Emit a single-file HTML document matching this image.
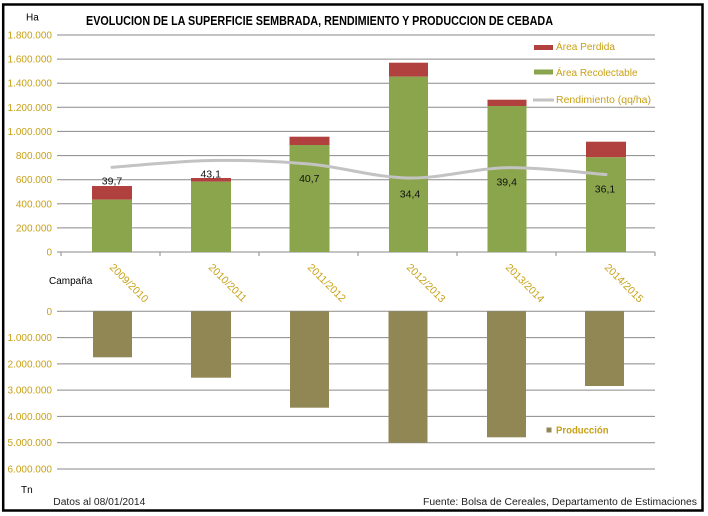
<!DOCTYPE html>
<html>
<head>
<meta charset="utf-8">
<style>
html,body{margin:0;padding:0;background:#fff;}
svg{display:block;}
text{font-family:"Liberation Sans",sans-serif;}
</style>
</head>
<body>
<svg width="708" height="516" viewBox="0 0 708 516" xmlns="http://www.w3.org/2000/svg">
<rect x="0" y="0" width="708" height="516" fill="#fff"/>
<rect x="3.2" y="4.5" width="699.3" height="506" fill="none" stroke="#000" stroke-width="2.5"/>

<text x="86" y="25" font-size="12.5" font-weight="bold" fill="#000" textLength="467" lengthAdjust="spacingAndGlyphs">EVOLUCION DE LA SUPERFICIE SEMBRADA, RENDIMIENTO Y PRODUCCION DE CEBADA</text>
<text x="26" y="20.7" font-size="10" fill="#000">Ha</text>

<g stroke="#8a8a8a" stroke-width="1">
<line x1="61" y1="35" x2="655" y2="35"/>
<line x1="61" y1="59.1" x2="655" y2="59.1"/>
<line x1="61" y1="83.2" x2="655" y2="83.2"/>
<line x1="61" y1="107.3" x2="655" y2="107.3"/>
<line x1="61" y1="131.4" x2="655" y2="131.4"/>
<line x1="61" y1="155.6" x2="655" y2="155.6"/>
<line x1="61" y1="179.7" x2="655" y2="179.7"/>
<line x1="61" y1="203.8" x2="655" y2="203.8"/>
<line x1="61" y1="227.9" x2="655" y2="227.9"/>
<line x1="61" y1="252" x2="655" y2="252"/>
<line x1="57" y1="35" x2="61" y2="35"/>
<line x1="57" y1="59.1" x2="61" y2="59.1"/>
<line x1="57" y1="83.2" x2="61" y2="83.2"/>
<line x1="57" y1="107.3" x2="61" y2="107.3"/>
<line x1="57" y1="131.4" x2="61" y2="131.4"/>
<line x1="57" y1="155.6" x2="61" y2="155.6"/>
<line x1="57" y1="179.7" x2="61" y2="179.7"/>
<line x1="57" y1="203.8" x2="61" y2="203.8"/>
<line x1="57" y1="227.9" x2="61" y2="227.9"/>
<line x1="57" y1="252" x2="61" y2="252"/>
<line x1="61" y1="252" x2="61" y2="256"/>
<line x1="160" y1="252" x2="160" y2="256"/>
<line x1="259" y1="252" x2="259" y2="256"/>
<line x1="358" y1="252" x2="358" y2="256"/>
<line x1="457" y1="252" x2="457" y2="256"/>
<line x1="556" y1="252" x2="556" y2="256"/>
<line x1="655" y1="252" x2="655" y2="256"/>
</g>

<g font-size="10" fill="#c8a015" text-anchor="end">
<text x="52" y="38.5">1.800.000</text>
<text x="52" y="62.6">1.600.000</text>
<text x="52" y="86.7">1.400.000</text>
<text x="52" y="110.8">1.200.000</text>
<text x="52" y="134.9">1.000.000</text>
<text x="52" y="159.1">800.000</text>
<text x="52" y="183.2">600.000</text>
<text x="52" y="207.3">400.000</text>
<text x="52" y="231.4">200.000</text>
<text x="52" y="255.5">0</text>
</g>

<g>
<rect x="92" y="186" width="40" height="13.7" fill="#b0413e"/>
<rect x="92" y="199.7" width="40" height="52.3" fill="#8aa54b"/>
<rect x="191" y="178" width="40" height="3.7" fill="#b0413e"/>
<rect x="191" y="181.7" width="40" height="70.3" fill="#8aa54b"/>
<rect x="289.5" y="136.7" width="40" height="8.3" fill="#b0413e"/>
<rect x="289.5" y="145" width="40" height="107" fill="#8aa54b"/>
<rect x="389" y="62.7" width="39" height="14" fill="#b0413e"/>
<rect x="389" y="76.7" width="39" height="175.3" fill="#8aa54b"/>
<rect x="487.5" y="99.7" width="39" height="6.3" fill="#b0413e"/>
<rect x="487.5" y="106" width="39" height="146" fill="#8aa54b"/>
<rect x="586" y="141.7" width="40" height="15.6" fill="#b0413e"/>
<rect x="586" y="157.3" width="40" height="94.7" fill="#8aa54b"/>
</g>

<path d="M112,167.3 C128.5,166.2 178.2,161.05 211,160.5 C243.8,159.95 276.2,161.1 309,164 C341.8,166.9 375,177.4 408,178 C441,178.6 474,168.3 507,167.7 C540,167.1 589.5,173.4 606,174.5" fill="none" stroke="#c3c3c3" stroke-width="3" stroke-linecap="round"/>

<g font-size="10.5" fill="#111" text-anchor="middle">
<text x="112" y="184.5">39,7</text>
<text x="210.7" y="177.5">43,1</text>
<text x="309.3" y="182">40,7</text>
<text x="410" y="197.5">34,4</text>
<text x="506.7" y="185.5">39,4</text>
<text x="605" y="192.5">36,1</text>
</g>

<rect x="534" y="45" width="19" height="5" fill="#b0413e"/>
<text x="556" y="50" font-size="10" fill="#c8a015" textLength="59" lengthAdjust="spacingAndGlyphs">Área Perdida</text>
<rect x="534" y="69.5" width="19" height="5" fill="#8aa54b"/>
<text x="556" y="76" font-size="10" fill="#c8a015" textLength="81.5" lengthAdjust="spacingAndGlyphs">Área Recolectable</text>
<line x1="533" y1="100" x2="554" y2="100" stroke="#c3c3c3" stroke-width="3"/>
<text x="556" y="103" font-size="10" fill="#c8a015" textLength="95" lengthAdjust="spacingAndGlyphs">Rendimiento (qq/ha)</text>

<g font-size="10.5" fill="#c8a015">
<text transform="translate(109,268) rotate(45)">2009/2010</text>
<text transform="translate(208,268) rotate(45)">2010/2011</text>
<text transform="translate(307,268) rotate(45)">2011/2012</text>
<text transform="translate(406,268) rotate(45)">2012/2013</text>
<text transform="translate(505,268) rotate(45)">2013/2014</text>
<text transform="translate(604,268) rotate(45)">2014/2015</text>
</g>
<text x="49" y="284" font-size="10" fill="#000">Campaña</text>

<g stroke="#8a8a8a" stroke-width="1">
<line x1="61" y1="311.3" x2="655" y2="311.3"/>
<line x1="61" y1="337.6" x2="655" y2="337.6"/>
<line x1="61" y1="363.9" x2="655" y2="363.9"/>
<line x1="61" y1="390.1" x2="655" y2="390.1"/>
<line x1="61" y1="416.4" x2="655" y2="416.4"/>
<line x1="61" y1="442.7" x2="655" y2="442.7"/>
<line x1="61" y1="469" x2="655" y2="469"/>
<line x1="57" y1="311.3" x2="61" y2="311.3"/>
<line x1="57" y1="337.6" x2="61" y2="337.6"/>
<line x1="57" y1="363.9" x2="61" y2="363.9"/>
<line x1="57" y1="390.1" x2="61" y2="390.1"/>
<line x1="57" y1="416.4" x2="61" y2="416.4"/>
<line x1="57" y1="442.7" x2="61" y2="442.7"/>
<line x1="57" y1="469" x2="61" y2="469"/>
</g>
<g font-size="10" fill="#c8a015" text-anchor="end">
<text x="52" y="314.8">0</text>
<text x="52" y="341.1">1.000.000</text>
<text x="52" y="367.4">2.000.000</text>
<text x="52" y="393.6">3.000.000</text>
<text x="52" y="419.9">4.000.000</text>
<text x="52" y="446.2">5.000.000</text>
<text x="52" y="472.5">6.000.000</text>
</g>

<g fill="#918755">
<rect x="93" y="311.3" width="39" height="46"/>
<rect x="191" y="311.3" width="40" height="66.4"/>
<rect x="290" y="311.3" width="39" height="96.4"/>
<rect x="388.5" y="311.3" width="39" height="131.4"/>
<rect x="487" y="311.3" width="39" height="126"/>
<rect x="585" y="311.3" width="39" height="74.7"/>
</g>

<rect x="546.5" y="427.5" width="5" height="5" fill="#918755"/>
<text x="556" y="433.5" font-size="10" font-weight="bold" fill="#c8a015" textLength="52.6" lengthAdjust="spacingAndGlyphs">Producción</text>

<text x="21" y="493" font-size="10" fill="#000">Tn</text>
<text x="53.3" y="505" font-size="10" fill="#222" textLength="92" lengthAdjust="spacingAndGlyphs">Datos al 08/01/2014</text>
<text x="423" y="505" font-size="10" fill="#222" textLength="274" lengthAdjust="spacingAndGlyphs">Fuente: Bolsa de Cereales, Departamento de Estimaciones</text>
</svg>
</body>
</html>
